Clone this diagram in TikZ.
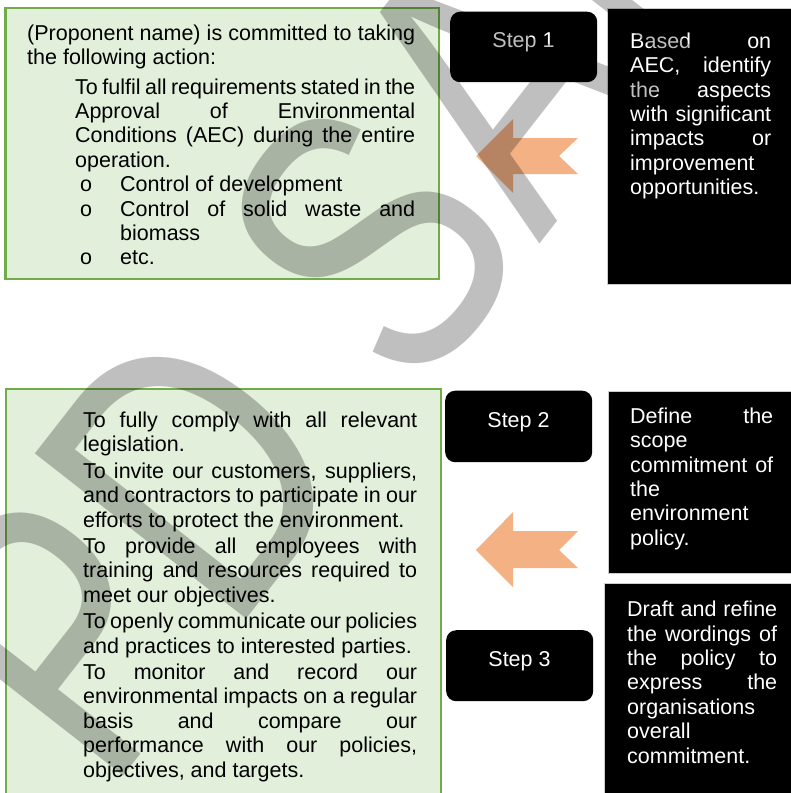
\documentclass[tikz,border=0pt]{standalone}
\usepackage{fontspec}
\setmainfont{Liberation Sans}
\usetikzlibrary{calc}

\definecolor{boxgreen}{RGB}{226,239,218}
\definecolor{edgegreen}{RGB}{112,173,71}
\definecolor{arroworange}{RGB}{244,177,131}

% one justified line, one ragged (last) line, and the small gap between paragraphs
\newcommand\jline[1]{\makebox[\linewidth][s]{#1}\par}
\newcommand\eline[1]{\mbox{#1}\par}
\newcommand\pgap{\vspace{2pt}}
\newcommand\bul{\makebox[45pt][l]{\hspace*{5pt}o}}

\begin{document}
\begin{tikzpicture}[x=1pt,y=-1pt,
  bodyfont/.style={font=\fontsize{21.5}{24.4}\selectfont},
  textblock/.style={bodyfont, inner sep=0pt, anchor=base west},
  panel/.style={draw=edgegreen, line width=2.6pt, fill=boxgreen, anchor=north west, inner sep=0pt},
  stepbox/.style={fill=black, rounded corners=10pt, anchor=north west, inner sep=0pt, minimum width=147},
  steplabel/.style={bodyfont, text=white, inner sep=0pt, anchor=base},
  infobox/.style={fill=black, draw=black!20, line width=0.7pt, anchor=north west, inner sep=0pt},
  flowarrow/.style={fill=arroworange},
  watermark/.style={font=\fontsize{300}{300}\selectfont, text=black, text opacity=0.25,
    inner sep=0pt, anchor=base west, rotate=52, yscale=1.3}
]
\useasboundingbox (0,0) rectangle (791,793);
\clip (0,0) rectangle (791,793);
\fill[white] (0,0) rectangle (791,793);

% green statement panels
\node[panel, minimum width=433.5, minimum height=271] (p1) at (4,6.5) {};
\node[panel, minimum width=435, minimum height=420] (p2) at (4.5,387.5) {};

% step boxes
\node[stepbox, minimum height=70.5] (s1) at (450,11.5) {};
\node[stepbox, minimum height=71.5] (s2) at (445,390.5) {};
\node[stepbox, minimum height=71] (s3) at (446,630) {};
\node[steplabel] (s1t) at (523.5,47.7) {Step 1};
\node[steplabel] (s2t) at (518.5,427.7) {Step 2};
\node[steplabel] (s3t) at (519.5,666) {Step 3};

% black description boxes
\node[infobox, minimum width=190, minimum height=276.5] (i1) at (607,7.5) {};
\node[infobox, minimum width=190, minimum height=182] (i2) at (608,391) {};
\node[infobox, minimum width=195, minimum height=215] (i3) at (604,583) {};

% arrows pointing back to the panels
\fill[flowarrow] (476,156) -- (513,119) -- (513,138) -- (578,138) -- (559,156)
  -- (578,174) -- (513,174) -- (513,193) -- cycle;
\fill[flowarrow] (476,550) -- (513,512) -- (513,531) -- (578,531) -- (559,550)
  -- (578,568) -- (513,568) -- (513,587) -- cycle;

% panel texts
\node[textblock] (p1a) at (27,40.5) {\parbox[t]{388pt}{%
  \jline{(Proponent name) is committed to taking}%
  \eline{the following action:}}};
\node[textblock] (p1b) at (75,94) {\parbox[t]{340pt}{%
  \jline{To fulfil all requirements stated in the}%
  \jline{Approval of Environmental}%
  \jline{Conditions (AEC) during the entire}%
  \eline{operation.}%
  \bul Control of development\par
  \bul\makebox[295pt][s]{Control of solid waste and}\par
  \hspace*{45pt}biomass\par
  \bul etc.\par}};
\node[textblock] (p2a) at (83,427.5) {\parbox[t]{334pt}{%
  \jline{To fully comply with all relevant}%
  \eline{legislation.}\pgap
  \jline{To invite our customers, suppliers,}%
  \jline{and contractors to participate in our}%
  \eline{efforts to protect the environment.}\pgap
  \jline{To provide all employees with}%
  \jline{training and resources required to}%
  \eline{meet our objectives.}\pgap
  \jline{To openly communicate our policies}%
  \eline{and practices to interested parties.}\pgap
  \jline{To monitor and record our}%
  \jline{environmental impacts on a regular}%
  \jline{basis and compare our}%
  \jline{performance with our policies,}%
  \eline{objectives, and targets.}}};

% description texts
\node[textblock, text=white] (i1t) at (630,48.3) {\parbox[t]{141pt}{%
  \jline{Based on}%
  \jline{AEC, identify}%
  \jline{the aspects}%
  \jline{with significant}%
  \jline{impacts or}%
  \eline{improvement}%
  \eline{opportunities.}}};
\node[textblock, text=white] (i2t) at (630,423.3) {\parbox[t]{143pt}{%
  \jline{Define the}%
  \eline{scope}%
  \jline{commitment of}%
  \eline{the}%
  \eline{environment}%
  \eline{policy.}}};
\node[textblock, text=white] (i3t) at (627,616.7) {\parbox[t]{150pt}{%
  \jline{Draft and refine}%
  \jline{the wordings of}%
  \jline{the policy to}%
  \jline{express the}%
  \eline{organisations}%
  \eline{overall}%
  \eline{commitment.}}};

% watermark across the page
\node[watermark] (wm) at (108,796) {PD SAMPLE};
\end{tikzpicture}
\end{document}
